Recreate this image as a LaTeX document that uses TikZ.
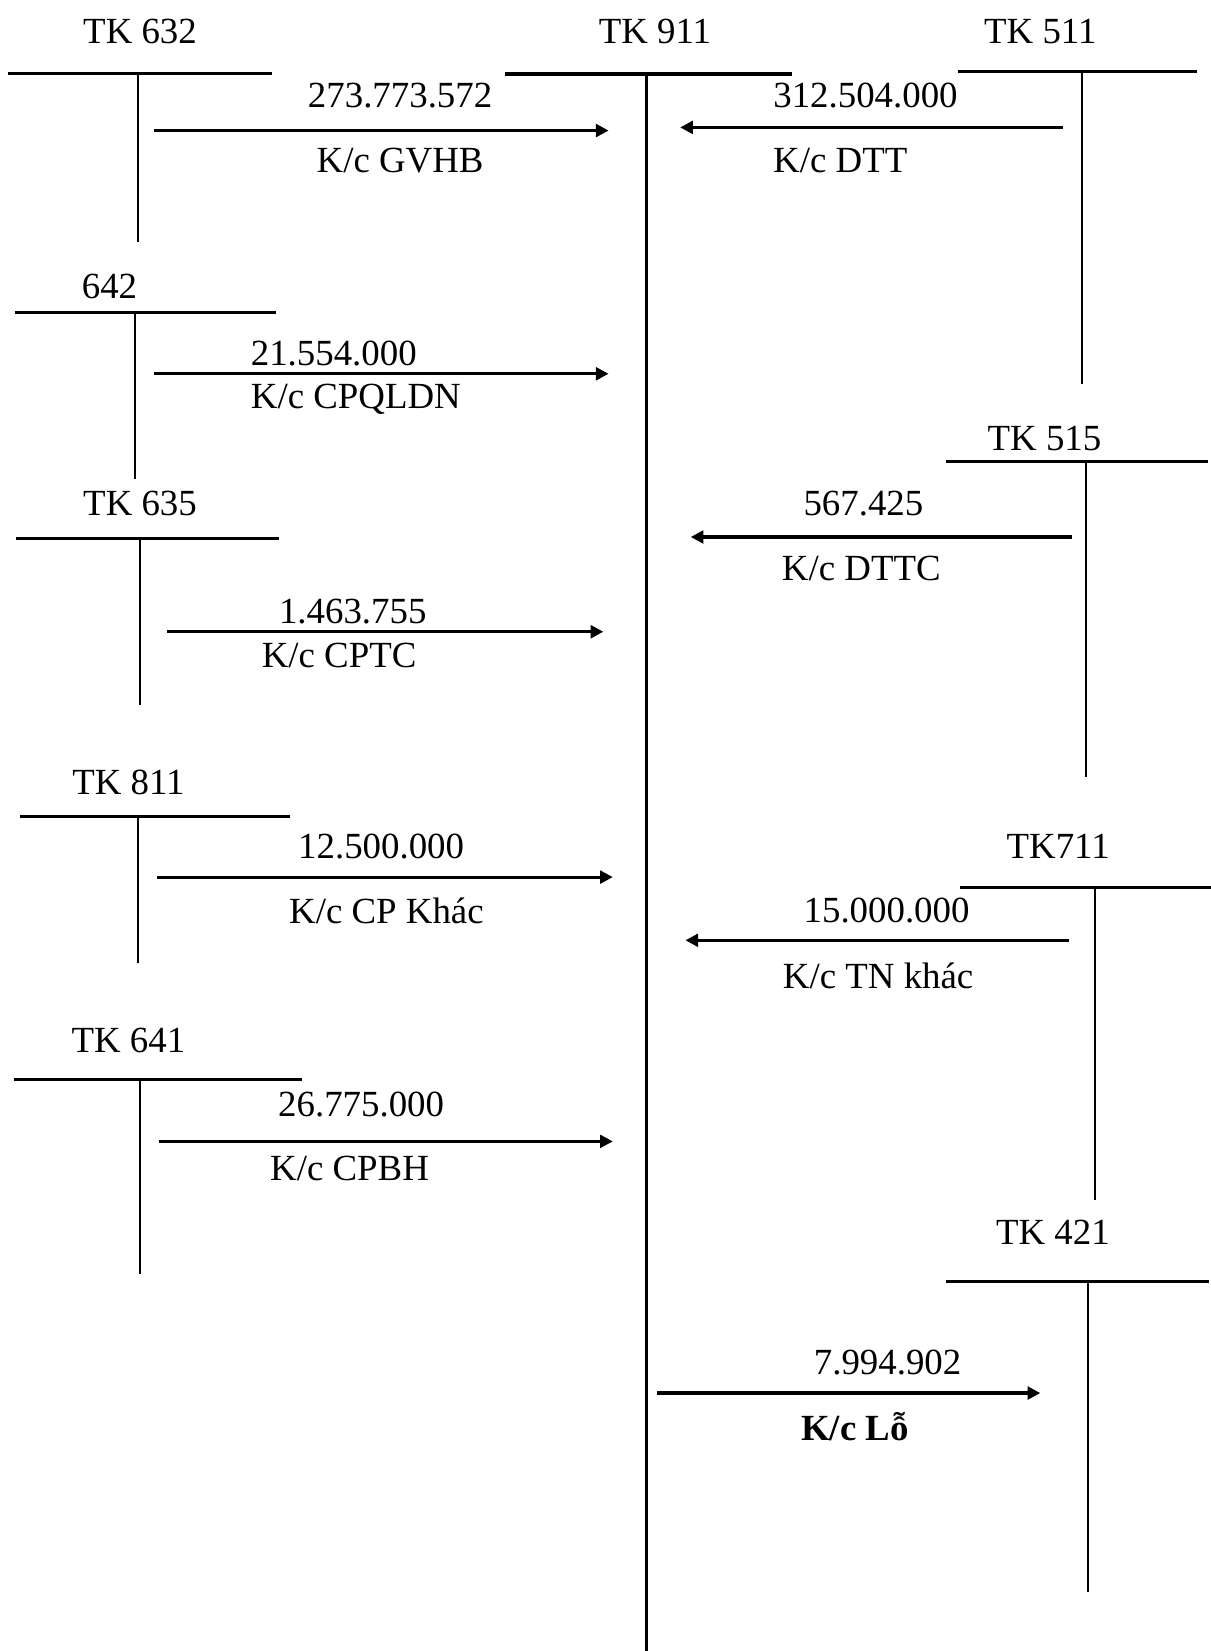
\documentclass[tikz,border=0pt]{standalone}
\usepackage{fontspec}
\setmainfont{Liberation Serif}
\usepackage{tikz}
\usetikzlibrary{arrows.meta, positioning}

\begin{document}
\begin{tikzpicture}[
    x=0.5pt, y=-0.5pt,
    >={Triangle[length=6pt, width=6pt]},
    lbl/.style={font=\fontsize{17.5}{20}\selectfont, inner sep=0pt, text height=1.5ex, text depth=0.25ex, yshift=-3pt},
    tbar/.style={line width=1.4pt},
    tstem/.style={line width=1pt},
    flow/.style={line width=1.5pt, ->},
]
    \useasboundingbox (0,0) rectangle (1150,1568);

    % Account names
    \node[lbl] (tk632) at (133,30) {TK 632};
    \node[lbl] (tk911) at (622,30) {TK 911};
    \node[lbl] (tk511) at (988,30) {TK 511};
    \node[lbl] (tk642) at (104,272) {642};
    \node[lbl] (tk515) at (992,416) {TK 515};
    \node[lbl] (tk635) at (133,478) {TK 635};
    \node[lbl] (tk811) at (122,743) {TK 811};
    \node[lbl] (tk711) at (1005,804) {TK711};
    \node[lbl] (tk641) at (122,988) {TK 641};
    \node[lbl] (tk421) at (1000,1170) {TK 421};

    % T accounts
    \draw[tbar] (8,70) -- (258,70);
    \draw[tstem] (131,70) -- (131,230);
    \draw[line width=1.9pt] (480,70) -- (752,70);
    \draw[line width=1.4pt] (614,70) -- (614,1568);
    \draw[tbar] (910,68) -- (1137,68);
    \draw[tstem] (1028,68) -- (1028,365);
    \draw[tbar] (14,297) -- (262,297);
    \draw[tstem] (128,297) -- (128,455);
    \draw[tbar] (898,438) -- (1147,438);
    \draw[tstem] (1031,438) -- (1031,738);
    \draw[tbar] (15,511) -- (265,511);
    \draw[tstem] (133,511) -- (133,670);
    \draw[tbar] (19,775) -- (275,775);
    \draw[tstem] (131,775) -- (131,915);
    \draw[tbar] (912,843) -- (1150,843);
    \draw[tstem] (1040,843) -- (1040,1140);
    \draw[tbar] (13,1025) -- (287,1025);
    \draw[tstem] (133,1025) -- (133,1210);
    \draw[tbar] (898,1217) -- (1148,1217);
    \draw[tstem] (1033,1217) -- (1033,1512);

    % Transfer ends
    \coordinate (gvhbA) at (146,124);  \coordinate (gvhbB) at (578,124);
    \coordinate (dttA) at (1010,121);  \coordinate (dttB) at (646,121);
    \coordinate (qldnA) at (146,355);  \coordinate (qldnB) at (578,355);
    \coordinate (dttcA) at (1018,510); \coordinate (dttcB) at (656,510);
    \coordinate (cptcA) at (159,600);  \coordinate (cptcB) at (573,600);
    \coordinate (cpkA) at (149,833);   \coordinate (cpkB) at (582,833);
    \coordinate (tnkA) at (1015,893);  \coordinate (tnkB) at (651,893);
    \coordinate (cpbhA) at (151,1084); \coordinate (cpbhB) at (582,1084);
    \coordinate (loA) at (624,1323);   \coordinate (loB) at (988,1323);

    \draw[flow] (gvhbA) -- (gvhbB);
    \draw[flow] (dttA) -- (dttB);
    \draw[flow] (qldnA) -- (qldnB);
    \draw[flow] (dttcA) -- (dttcB);
    \draw[flow] (cptcA) -- (cptcB);
    \draw[flow] (cpkA) -- (cpkB);
    \draw[flow] (tnkA) -- (tnkB);
    \draw[flow] (cpbhA) -- (cpbhB);
    \draw[flow] (loA) -- (loB);

    % Amounts and captions
    \node[lbl] (v1) at (380,90) {273.773.572};
    \node[lbl] (c1) at (380,152) {K/c GVHB};
    \node[lbl] (v2) at (822,90) {312.504.000};
    \node[lbl] (c2) at (798,152) {K/c DTT};
    \node[lbl] (v3) at (317,335) {21.554.000};
    \node[lbl] (c3) at (338,376) {K/c CPQLDN};
    \node[lbl] (v4) at (820,478) {567.425};
    \node[lbl] (c4) at (818,540) {K/c DTTC};
    \node[lbl] (v5) at (335,580) {1.463.755};
    \node[lbl] (c5) at (322,622) {K/c CPTC};
    \node[lbl] (v6) at (362,804) {12.500.000};
    \node[lbl] (c6) at (367,865) {K/c CP Khác};
    \node[lbl] (v7) at (842,864) {15.000.000};
    \node[lbl] (c7) at (834,927) {K/c TN khác};
    \node[lbl] (v8) at (343,1049) {26.775.000};
    \node[lbl] (c8) at (332,1109) {K/c CPBH};
    \node[lbl] (v9) at (843,1294) {7.994.902};
    \node[lbl, font=\fontsize{17.5}{20}\selectfont\bfseries] (c9) at (812,1356) {K/c Lỗ};
\end{tikzpicture}
\end{document}
